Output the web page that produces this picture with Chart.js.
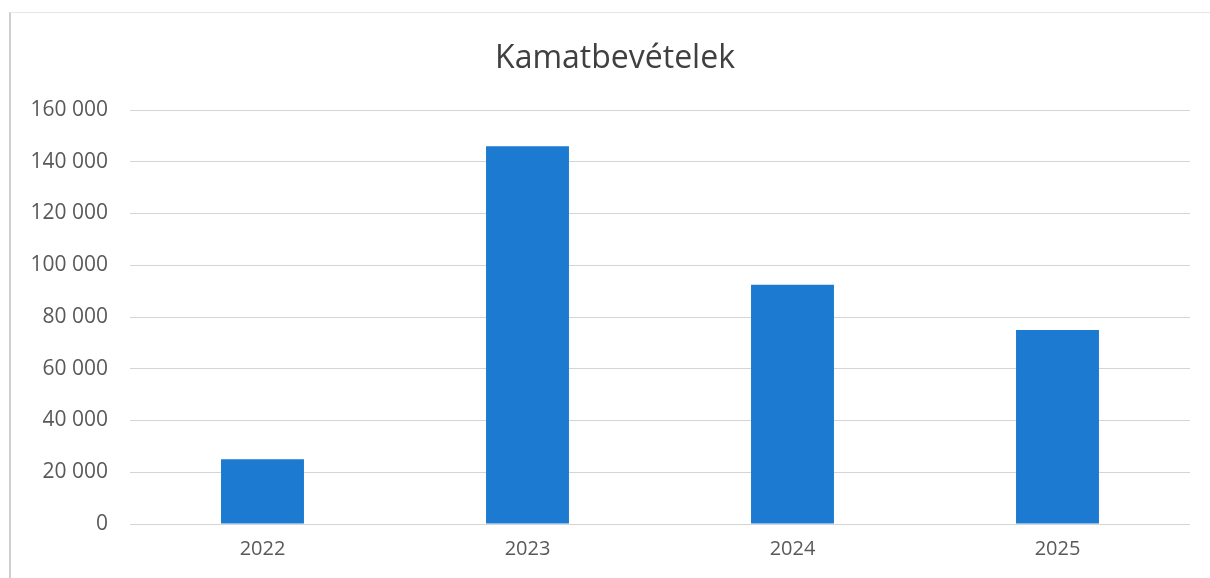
<!DOCTYPE html>
<html>
<head>
<meta charset="utf-8">
<script src="https://cdn.jsdelivr.net/npm/chart.js@4/dist/chart.umd.min.js"></script>
<style>
  html, body { margin: 0; padding: 0; background: #fff; }
  #wrap { position: relative; width: 1210px; height: 578px; }
  #frame { position: absolute; left: 9px; top: 12px; width: 1201px; height: 566px;
           border-left: 2px solid #cfcfcf; border-top: 1px solid #e6e6e6; box-sizing: border-box; }
  canvas { position: absolute; left: 0; top: 0; }
</style>
</head>
<body>
<div id="wrap">
  <div id="frame"></div>
  <canvas id="chart" width="1210" height="578"></canvas>
</div>
<script>
// Data
const years = ["2022", "2023", "2024", "2025"];
const interest = [25000, 146000, 92500, 75000];
const yTicks = [0, 20000, 40000, 60000, 80000, 100000, 120000, 140000, 160000];
const chartTitle = "Kamatbevételek";

function fmt(v) {
  return String(v).replace(/\B(?=(\d{3})+(?!\d))/g, " ");
}

// title is drawn by hand so it can sit centred on the frame, not the plot
const titlePlugin = {
  id: "frameTitle",
  afterDraw: function (chart) {
    const c = chart.ctx;
    c.save();
    c.font = "32px 'Open Sans'";
    c.fillStyle = "#404040";
    c.textAlign = "center";
    c.textBaseline = "middle";
    c.fillText(chartTitle, 615, 59);
    c.restore();
  },
};

const ctx = document.getElementById("chart").getContext("2d");
new Chart(ctx, {
  type: "bar",
  data: {
    labels: years,
    datasets: [
      {
        label: chartTitle,
        data: interest,
        backgroundColor: "#1c7bd0",
        barPercentage: 1,
        categoryPercentage: 0.313,
      },
    ],
  },
  plugins: [titlePlugin],
  options: {
    responsive: false,
    animation: false,
    layout: { padding: { left: 10, right: 20, top: 110, bottom: 4 } },
    plugins: {
      legend: { display: false },
      tooltip: { enabled: false },
      title: { display: false },
    },
    scales: {
      x: {
        grid: { display: false, drawTicks: false },
        border: { display: false },
        ticks: {
          color: "#595959",
          font: { family: "Open Sans", size: 20 },
          padding: 13,
        },
      },
      y: {
        min: 0,
        max: 160000,
        afterBuildTicks: function (axis) {
          axis.ticks = yTicks.map(function (v) { return { value: v }; });
        },
        afterFit: function (axis) { axis.width = 120; },
        grid: { color: "#d4d4d4", lineWidth: 1, drawTicks: false },
        border: { display: false },
        ticks: {
          color: "#595959",
          font: { family: "Open Sans", size: 21 },
          padding: 22,
          callback: function (v) { return fmt(v); },
        },
      },
    },
  },
});
</script>
</body>
</html>
